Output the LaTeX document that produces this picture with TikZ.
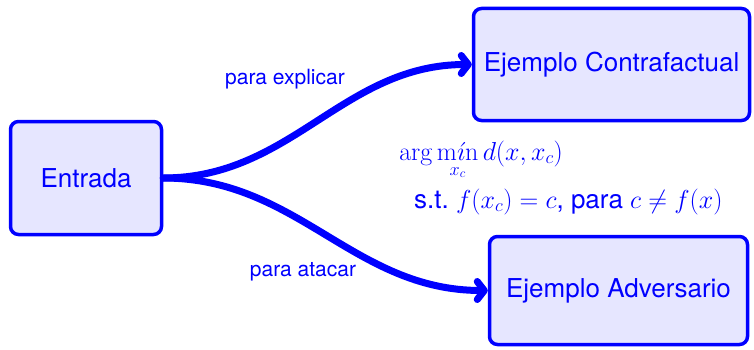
\RequirePackage{fix-cm}
\documentclass[tikz,border=0pt]{standalone}
\usepackage[no-math]{fontspec}
\setmainfont{TeX Gyre Heros}
\setsansfont{TeX Gyre Heros}
\usetikzlibrary{arrows.meta}
\definecolor{boxfill}{RGB}{230,230,255}
\begin{document}
\begin{tikzpicture}[x=1pt,y=1pt,
  box/.style={draw=blue,fill=boxfill,line width=3.5pt,rounded corners=8pt,
    text=blue,font=\fontsize{26}{30}\selectfont,inner sep=0pt},
  flow/.style={draw=blue,line width=7pt,line cap=round,
    -{Straight Barb[length=7pt,width=18pt,round]}},
  lbl/.style={text=blue,font=\fontsize{21}{25}\selectfont,inner sep=0pt},
  mth/.style={text=blue,anchor=base west,inner sep=0pt,font=\fontsize{26}{30}\selectfont}]
\useasboundingbox (0,0) rectangle (754,349);
\node[box,minimum width=151pt,minimum height=113pt] (in) at (86,171) {Entrada};
\node[box,minimum width=276pt,minimum height=112pt] (cf) at (611.5,284.5) {Ejemplo Contrafactual};
\node[box,minimum width=258pt,minimum height=108pt] (adv) at (618.5,58.5) {Ejemplo Adversario};
\draw[flow] (in.east) to[out=0,in=180] (cf.west);
\draw[flow] (in.east) to[out=0,in=180] (adv.west);
\node[lbl] (l1) at (285,270) {para explicar};
\node[lbl] (l2) at (303,77) {para atacar};
\node[mth] (m1) at (399,189)
  {$\displaystyle\arg\mathop{\mathrm{m\acute{\imath}n}}\limits_{\raisebox{-9pt}{$\scriptstyle x_c$}} d(x,x_c)$};
\node[mth] (m2) at (414,141)
  {s.t.\ $f(x_c)=c$, para $c\neq f(x)$};
\end{tikzpicture}
\end{document}
